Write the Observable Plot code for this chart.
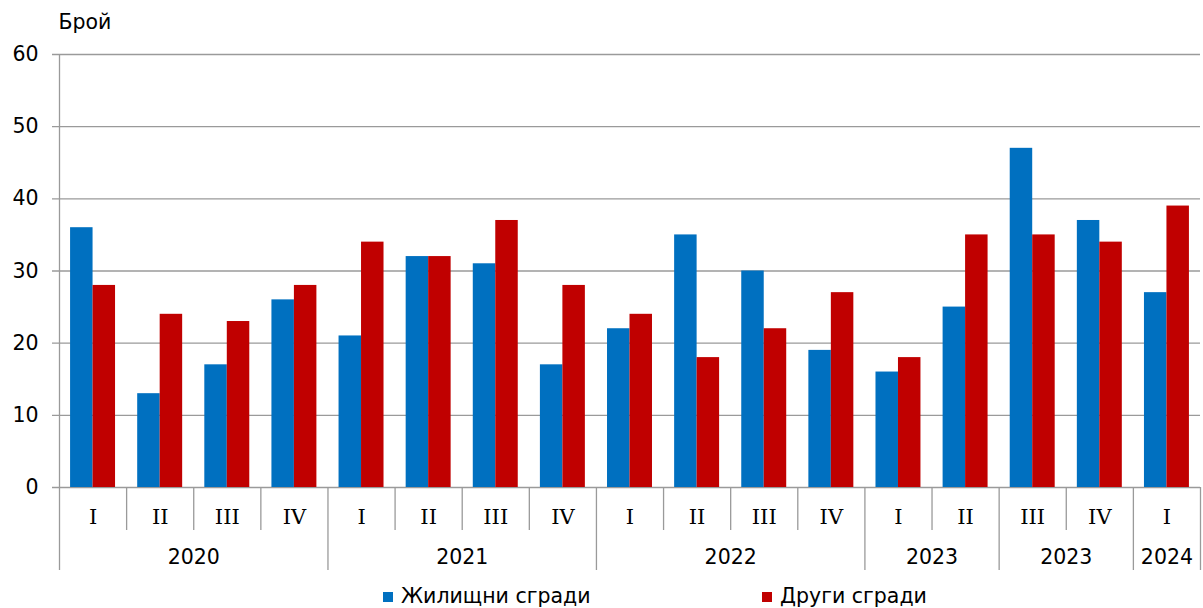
<!DOCTYPE html>
<html>
<head>
<meta charset="utf-8">
<script src="https://cdn.jsdelivr.net/npm/d3@7"></script>
<script src="https://cdn.jsdelivr.net/npm/@observablehq/plot@0.6"></script>
<style>
  html, body { margin: 0; padding: 0; background: #fff; }
  #chart { width: 1203px; }
  .legend { position: relative; height: 28px; font-family: "DejaVu Sans", sans-serif; font-size: 20.5px; color: #000; }
  .legend span.item { position: absolute; top: 4px; white-space: nowrap; line-height: 24px; }
  .legend span.sw { display: inline-block; width: 10px; height: 10px; margin-right: 8px; vertical-align: 1px; }
</style>
</head>
<body>
<div id="chart"></div>
<script>
const quarters = ["I","II","III","IV","I","II","III","IV","I","II","III","IV","I","II","III","IV","I"];
const residential = [36,13,17,26,21,32,31,17,22,35,30,19,16,25,47,37,27];
const other = [28,24,23,28,34,32,37,28,24,18,22,27,18,35,35,34,39];
const yearGroups = ["2020","2021","2022","2023","2023","2024"];
const yearSizes = [4,4,4,2,2,1];
const seriesNames = ["Жилищни сгради","Други сгради"];
const colors = ["#0070C0","#C00000"];
const yTicks = [0,10,20,30,40,50,60];

const rows = quarters.map((q, i) => ({i, q, res: residential[i], oth: other[i]}));
let startIdx = 0;
const groups = yearGroups.map((y, k) => { const g = {y, s: startIdx, e: startIdx + yearSizes[k]}; startIdx += yearSizes[k]; return g; });
const yearBounds = [0, ...groups.map(g => g.e)];
const quarterBounds = d3.range(0, quarters.length + 1).filter(b => !yearBounds.includes(b));

const H = 580, plotTop = 54, plotBottom = 487;
const grid = "#9a9a9a";

const chart = Plot.plot({
  width: 1203,
  height: H,
  marginLeft: 59,
  marginRight: 3,
  marginTop: plotTop,
  marginBottom: H - plotBottom,
  style: {fontFamily: "DejaVu Sans, sans-serif", fontSize: "20.5px", color: "#000", background: "#fff"},
  x: {domain: [0, quarters.length], axis: null},
  y: {domain: [0, 60], axis: null},
  marks: [
    Plot.ruleY(yTicks, {y: d => d, stroke: grid, strokeWidth: 1.3, insetLeft: -7}),
    Plot.text(yTicks, {y: d => d, text: d => String(d), frameAnchor: "left", textAnchor: "end", lineAnchor: "middle", dx: -21, fill: "#000"}),
    Plot.rectY(rows, {x1: d => d.i + 0.165, x2: d => d.i + 0.5, y1: 0, y2: "res", fill: colors[0]}),
    Plot.rectY(rows, {x1: d => d.i + 0.5, x2: d => d.i + 0.835, y1: 0, y2: "oth", fill: colors[1]}),
    Plot.ruleX([0], {stroke: grid, strokeWidth: 1.3}),
    Plot.ruleX(quarterBounds, {stroke: grid, strokeWidth: 1.3, insetTop: plotBottom - plotTop, insetBottom: -43}),
    Plot.ruleX(yearBounds, {stroke: grid, strokeWidth: 1.3, insetTop: plotBottom - plotTop, insetBottom: -83}),
    Plot.text(rows, {x: d => d.i + 0.5, text: "q", frameAnchor: "bottom", lineAnchor: "middle", dy: 30, fontFamily: "DejaVu Serif, serif", fontSize: 21, fill: "#000"}),
    Plot.text(groups, {x: d => (d.s + d.e) / 2, text: "y", frameAnchor: "bottom", lineAnchor: "middle", dy: 70, fill: "#000"}),
    Plot.text(["Брой"], {text: d => d, frameAnchor: "top-left", textAnchor: "start", lineAnchor: "middle", dx: -1, dy: -32, fill: "#000"})
  ]
});
document.getElementById("chart").appendChild(chart);

const legend = document.createElement("div");
legend.className = "legend";
const lefts = [383, 762];
seriesNames.forEach((name, k) => {
  const item = document.createElement("span");
  item.className = "item";
  item.style.left = lefts[k] + "px";
  const sw = document.createElement("span");
  sw.className = "sw";
  sw.style.background = colors[k];
  item.appendChild(sw);
  item.appendChild(document.createTextNode(name));
  legend.appendChild(item);
});
document.body.appendChild(legend);
</script>
</body>
</html>
